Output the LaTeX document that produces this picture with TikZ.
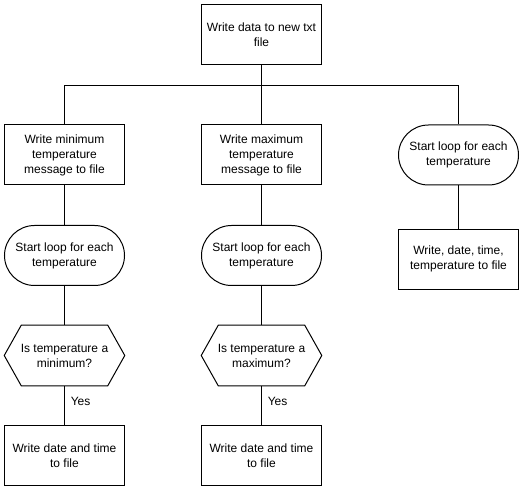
\documentclass[tikz,border=0pt]{standalone}
\usepackage{fontspec}
\setmainfont{Liberation Sans}
\usepackage{tikz}

\begin{document}
\begin{tikzpicture}[x=0.75pt,y=-0.75pt,
		box/.style={draw, minimum width=90pt, minimum height=45pt, line width=0.75pt, align=center, font=\fontsize{9}{11.25}\selectfont},
		terminal/.style={box, rounded corners=22.5pt},
		hexa/.style={minimum width=90pt, minimum height=45pt, align=center, font=\fontsize{9}{11.25}\selectfont},
		link/.style={line width=0.75pt}]
		\useasboundingbox (0,0) rectangle (531,491);

		\node[box] (top) at (261.5,35) {Write data to new txt\\file};

		\node[box] (min) at (64.5,155) {Write minimum\\temperature\\message to file};
		\node[box] (max) at (261.5,155) {Write maximum\\temperature\\message to file};
		\node[terminal] (loopc) at (458.5,155) {Start loop for each\\temperature};

		\node[terminal] (loopa) at (64.5,255.5) {Start loop for each\\temperature};
		\node[terminal] (loopb) at (261.5,255.5) {Start loop for each\\temperature};
		\node[box] (wc) at (458.5,259.3) {Write, date, time,\\temperature to file};

		\node[hexa] (qa) at (64.5,355.5) {Is temperature a\\minimum?};
		\node[hexa] (qb) at (261.5,355.5) {Is temperature a\\maximum?};
		\draw[link] (qa.west) -- ([xshift=12.75pt]qa.north west) -- ([xshift=-12.75pt]qa.north east) -- (qa.east) -- ([xshift=-12.75pt]qa.south east) -- ([xshift=12.75pt]qa.south west) -- cycle;
		\draw[link] (qb.west) -- ([xshift=12.75pt]qb.north west) -- ([xshift=-12.75pt]qb.north east) -- (qb.east) -- ([xshift=-12.75pt]qb.south east) -- ([xshift=12.75pt]qb.south west) -- cycle;

		\node[box] (da) at (64.5,455.3) {Write date and time\\to file};
		\node[box] (db) at (261.5,455.3) {Write date and time\\to file};

		\coordinate (bus) at (261.5,86);
		\draw[link] (top.south) -- (bus);
		\draw[link] (bus) -| (min.north);
		\draw[link] (bus) -| (loopc.north);
		\draw[link] (bus) -- (max.north);

		\draw[link] (min.south) -- (loopa.north);
		\draw[link] (max.south) -- (loopb.north);
		\draw[link] (loopc.south) -- (wc.north);

		\draw[link] (loopa.south) -- (qa.north);
		\draw[link] (loopb.south) -- (qb.north);

		\draw[link] (qa.south) -- node[pos=0.4, right, xshift=1pt, font=\fontsize{9}{11.25}\selectfont] (ya) {Yes} (da.north);
		\draw[link] (qb.south) -- node[pos=0.4, right, xshift=1pt, font=\fontsize{9}{11.25}\selectfont] (yb) {Yes} (db.north);
	\end{tikzpicture}
\end{document}
